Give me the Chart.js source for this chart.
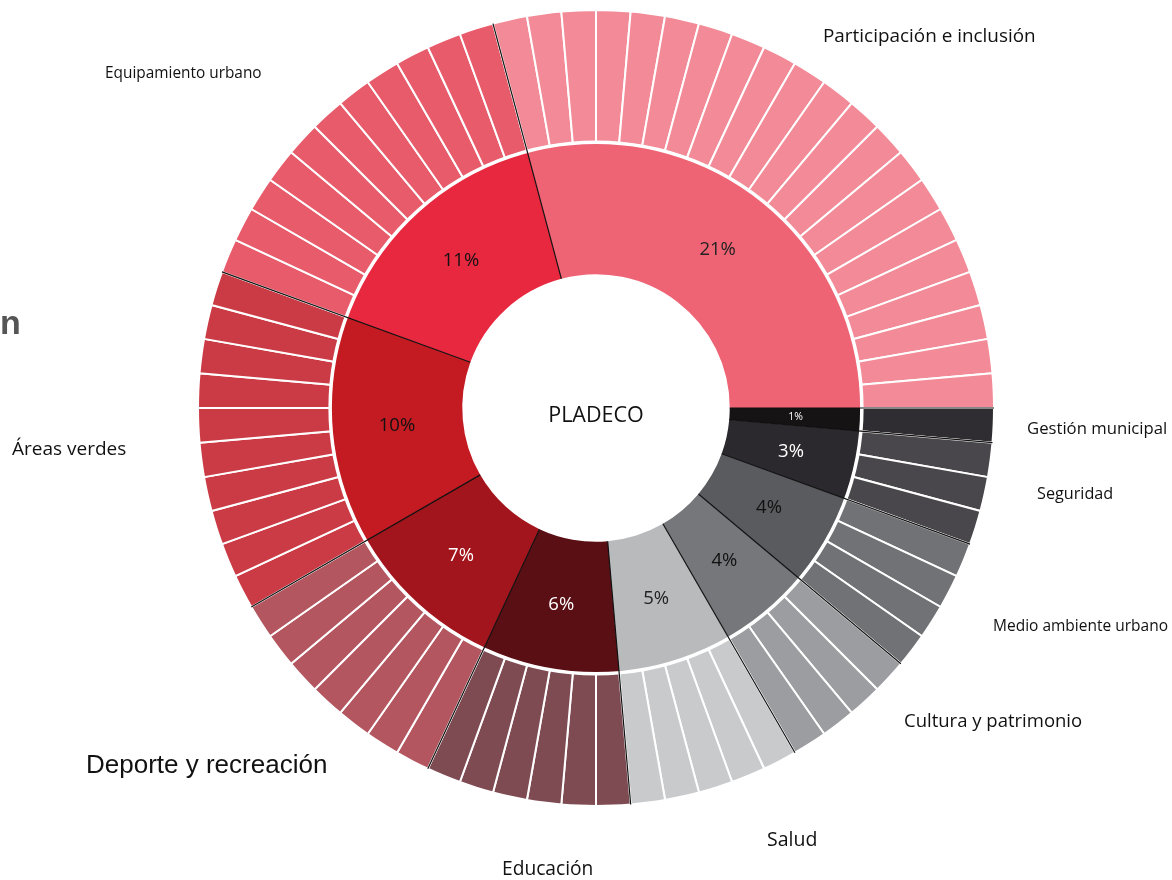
<!DOCTYPE html>
<html lang="es">
<head>
<meta charset="utf-8">
<title>PLADECO</title>
<script src="https://cdn.jsdelivr.net/npm/chart.js@4"></script>
<style>
  html, body { margin: 0; padding: 0; background: #fff; }
  #wrap { position: relative; width: 1172px; height: 880px; }
</style>
</head>
<body>
<div id="wrap"><canvas id="sunburst" width="1172" height="880"></canvas></div>
<script>
/* ===== data (clockwise from 3 o'clock) ===== */
const categories = [
    'Gestión municipal', 'Seguridad', 'Medio ambiente urbano', 'Cultura y patrimonio',
    'Salud', 'Educación', 'Deporte y recreación', 'Áreas verdes',
    'Equipamiento urbano', 'Participación e inclusión'
];
const percents = [1, 3, 4, 4, 5, 6, 7, 10, 11, 21];
// number of sub-items drawn in the outer ring for each category
const itemCounts = [1, 3, 4, 4, 5, 6, 7, 10, 11, 21];

const innerColors = ['#161315', '#2b292d', '#5a5b5f', '#75777b', '#b9babc',
                     '#5a0f15', '#a3151c', '#c41b23', '#e8283f', '#ee6475'];
const outerColors = ['#2f2d31', '#49474b', '#717276', '#9c9da0', '#c9cacc',
                     '#7f4b53', '#b3565f', '#cb3b45', '#e75b6b', '#f28b97'];
const pctTextColors = ['#fff', '#fff', '#111', '#111', '#222',
                       '#fff', '#fff', '#111', '#111', '#222'];

// outer ring: one equal slice per sub-item
const outerValues = [];
const outerBg = [];
itemCounts.forEach((n, i) => {
    for (let k = 0; k < n; k++) { outerValues.push(1); outerBg.push(outerColors[i]); }
});

// free-standing category captions placed as in the original figure
const captions = [
    { text: 'Participación e inclusión', x: 823, y: 37, font: '18.9px "Open Sans"' },
    { text: 'Equipamiento urbano', x: 105, y: 74, font: '15.4px "Open Sans"' },
    { text: 'Áreas verdes', x: 12, y: 450, font: '19px "Open Sans"' },
    { text: 'Deporte y recreación', x: 86, y: 766, font: '26px "Liberation Sans"' },
    { text: 'Educación', x: 502, y: 870, font: '19.2px "Open Sans"' },
    { text: 'Salud', x: 767, y: 840, font: '19.5px "Open Sans"' },
    { text: 'Cultura y patrimonio', x: 904, y: 722, font: '18.5px "Open Sans"' },
    { text: 'Medio ambiente urbano', x: 993, y: 627, font: '15.5px "Open Sans"' },
    { text: 'Seguridad', x: 1037, y: 494, font: '16.2px "Open Sans"' },
    { text: 'Gestión municipal', x: 1027, y: 429, font: '16.7px "Open Sans"' },
    { text: 'n', x: 0, y: 325, font: 'bold 34px "Liberation Sans"', color: '#555' }
];

// separators, ring gap, percentages and captions
const decorations = {
    id: 'decorations',
    afterDatasetsDraw(chart) {
        const ctx = chart.ctx;
        const outerMeta = chart.getDatasetMeta(0);
        const innerMeta = chart.getDatasetMeta(1);
        const o = outerMeta.data[0];
        const cx = o.x, cy = o.y;
        const rOut = o.outerRadius, rMid = o.innerRadius;
        const rHole = innerMeta.data[0].innerRadius;

        ctx.save();
        // white gap between the two rings
        ctx.strokeStyle = '#fff';
        ctx.lineWidth = 3.5;
        ctx.beginPath();
        ctx.arc(cx, cy, rMid, 0, Math.PI * 2);
        ctx.stroke();

        // black lines on category boundaries
        ctx.strokeStyle = '#111';
        ctx.lineWidth = 1.2;
        innerMeta.data.forEach(arc => {
            const a = arc.startAngle;
            ctx.beginPath();
            ctx.moveTo(cx + Math.cos(a) * rHole, cy + Math.sin(a) * rHole);
            ctx.lineTo(cx + Math.cos(a) * rOut, cy + Math.sin(a) * rOut);
            ctx.stroke();
        });

        // percentage labels in the inner ring
        ctx.textAlign = 'center';
        ctx.textBaseline = 'middle';
        innerMeta.data.forEach((arc, i) => {
            const mid = (arc.startAngle + arc.endAngle) / 2;
            const r = (arc.innerRadius + arc.outerRadius) / 2;
            ctx.fillStyle = pctTextColors[i];
            ctx.font = percents[i] === 1 ? '10.5px "Open Sans"' : '18.5px "Open Sans"';
            ctx.fillText(percents[i] + '%', cx + Math.cos(mid) * r, cy + Math.sin(mid) * r);
        });

        // centre title
        ctx.fillStyle = '#111';
        ctx.font = '21.5px "Open Sans"';
        ctx.fillText('PLADECO', cx, cy + 8);

        // captions
        ctx.textAlign = 'left';
        captions.forEach(c => {
            ctx.font = c.font;
            ctx.fillStyle = c.color || '#111';
            ctx.fillText(c.text, c.x, c.y);
        });
        ctx.restore();
    }
};

new Chart(document.getElementById('sunburst'), {
    type: 'doughnut',
    data: {
        labels: outerValues.map((v, i) => 'item ' + (i + 1)),
        datasets: [
            { data: outerValues, backgroundColor: outerBg, borderColor: '#fff', borderWidth: 2 },
            { data: percents, backgroundColor: innerColors, borderWidth: 0 }
        ]
    },
    options: {
        responsive: false,
        animation: false,
        rotation: 90,
        cutout: '33.6%',
        layout: { padding: { top: 9, bottom: 73, left: 20, right: 0 } },
        plugins: {
            legend: { display: false },
            tooltip: { enabled: false },
            title: { display: false }
        }
    },
    plugins: [decorations]
});
</script>
</body>
</html>
